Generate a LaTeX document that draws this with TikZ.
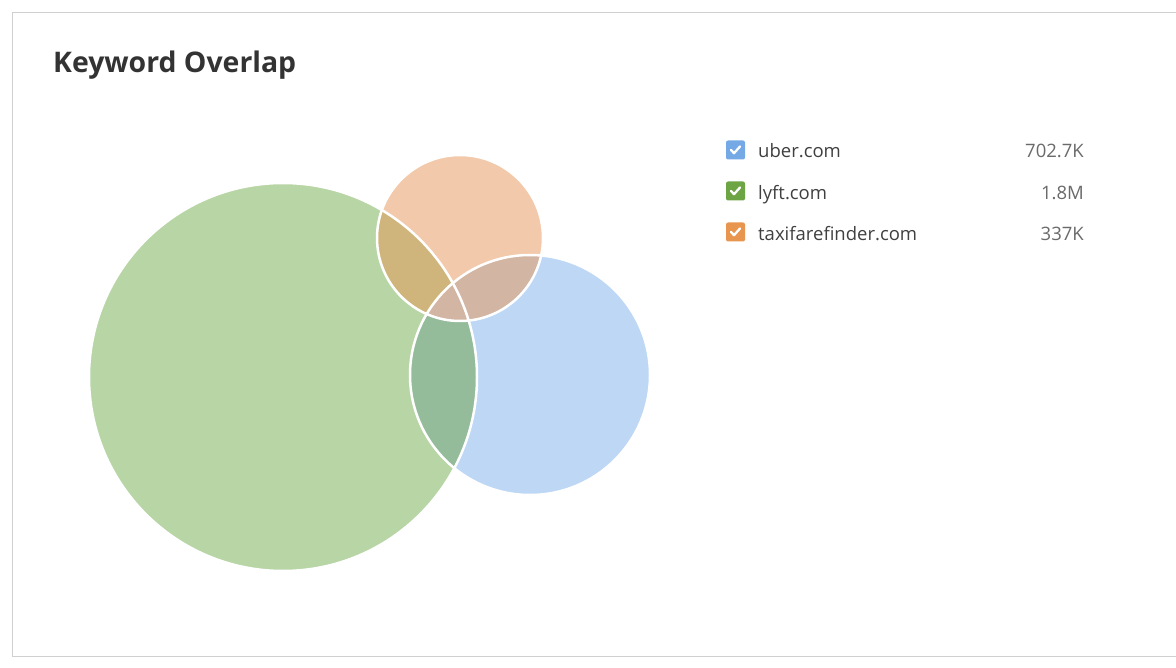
\documentclass[tikz,border=0pt]{standalone}
\usepackage{fontspec}
\setmainfont{Open Sans}
\usetikzlibrary{positioning}

\definecolor{lyftfill}{HTML}{B8D5A6}
\definecolor{taxifill}{HTML}{F2CAAB}
\definecolor{uberfill}{HTML}{BDD7F5}
\definecolor{lyfttaxi}{HTML}{CFB57C}
\definecolor{taxiuber}{HTML}{D2B5A3}
\definecolor{lyftuber}{HTML}{94BB9A}
\definecolor{allthree}{HTML}{BEA877}
\definecolor{uberbox}{HTML}{74A9E6}
\definecolor{lyftbox}{HTML}{6DA544}
\definecolor{taxibox}{HTML}{E8964F}
\definecolor{cardline}{HTML}{D0D0D0}
\definecolor{titletext}{HTML}{333333}
\definecolor{labeltext}{HTML}{404040}
\definecolor{valuetext}{HTML}{6A6A6A}

\begin{document}
\begin{tikzpicture}[x=1pt,y=-1pt,
  chkbox/.style={rectangle,rounded corners=2pt,minimum size=19pt,inner sep=0pt,fill=#1},
  lbl/.style={anchor=base west,inner sep=0pt,text=labeltext,font=\fontsize{18.5}{22}\selectfont},
  val/.style={anchor=base east,inner sep=0pt,text=valuetext,font=\fontsize{18.5}{22}\selectfont},
  rim/.style={draw=white,line width=2.5pt},
  chkmark/.pic={\draw[white,line width=2.3pt,line cap=round,line join=round] (-4.5,0) -- (-1.5,3.2) -- (4.5,-3.5);}]
  \useasboundingbox (0,0) rectangle (1176,668);
  \fill[white] (0,0) rectangle (1176,668);
  \draw[cardline,line width=1pt] (1176,12.5) -- (12.5,12.5) -- (12.5,656.5) -- (1176,656.5);

  \node[anchor=base west,inner sep=0pt,text=titletext,font=\fontsize{28.4}{34}\bfseries] (title) at (53,73) {Keyword Overlap};

  % circle centres
  \coordinate (lyft) at (283,377);
  \coordinate (taxi) at (460,238);
  \coordinate (uber) at (530,375);

  \fill[lyftfill] (lyft) circle[radius=194pt];
  \fill[taxifill] (taxi) circle[radius=83pt];
  \fill[uberfill] (uber) circle[radius=120pt];
  \begin{scope}
    \clip (lyft) circle[radius=194pt];
    \fill[lyfttaxi] (taxi) circle[radius=83pt];
    \fill[lyftuber] (uber) circle[radius=120pt];
    \clip (taxi) circle[radius=83pt];
    \fill[allthree] (uber) circle[radius=120pt];
  \end{scope}
  \begin{scope}
    \clip (lyft) circle[radius=194pt] (-10,-10) rectangle (1200,700);
    \clip (taxi) circle[radius=83pt];
    \fill[taxiuber] (uber) circle[radius=120pt];
  \end{scope}
  \draw[rim] (lyft) circle[radius=194pt];
  \draw[rim] (taxi) circle[radius=83pt];
  \draw[rim] (uber) circle[radius=120pt];

  % legend
  \node[chkbox=uberbox] (cbU) at (735.5,150) {};
  \node[chkbox=lyftbox] (cbL) at (735.5,191) {};
  \node[chkbox=taxibox] (cbT) at (735.5,232) {};
  \pic at (cbU) {chkmark};
  \pic at (cbL) {chkmark};
  \pic at (cbT) {chkmark};

  \node[lbl] (lU) at (758,158) {uber.com};
  \node[lbl] (lL) at (758,199.5) {lyft.com};
  \node[lbl] (lT) at (758,241) {taxifarefinder.com};
  \node[val] (vU) at (1084,158) {702.7K};
  \node[val] (vL) at (1084,199.5) {1.8M};
  \node[val] (vT) at (1084,241) {337K};
\end{tikzpicture}
\end{document}
